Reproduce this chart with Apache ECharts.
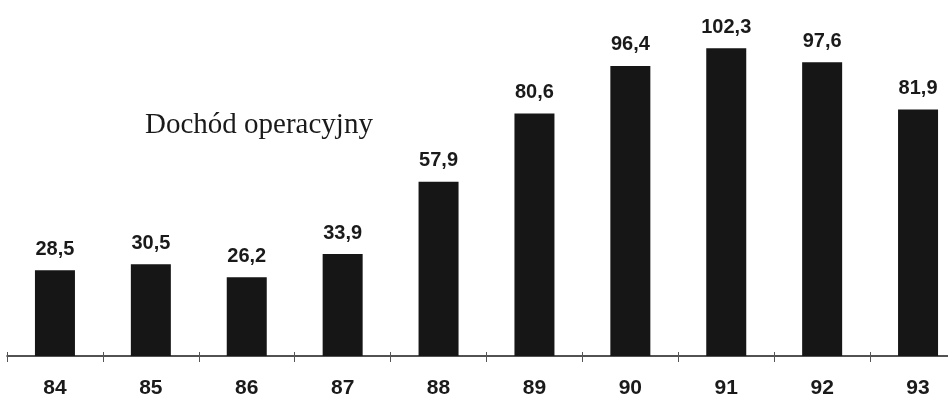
<!DOCTYPE html>
<html>
<head>
<meta charset="utf-8">
<script src="https://cdn.jsdelivr.net/npm/echarts@6/dist/echarts.min.js"></script>
<style>
  html, body { margin: 0; padding: 0; background: #ffffff; overflow: hidden; }
  /* the last category runs past the right edge of the page */
  #chart { width: 970px; height: 399px; }
</style>
</head>
<body>
<div id="chart"></div>
<script>
// Operating income by year
const years = ['84', '85', '86', '87', '88', '89', '90', '91', '92', '93'];
const income = [28.5, 30.5, 26.2, 33.9, 57.9, 80.6, 96.4, 102.3, 97.6, 81.9];
const titleText = 'Dochód operacyjny';

const chart = echarts.init(document.getElementById('chart'), null, { renderer: 'canvas' });

const gridBox = { left: 7, right: 4, top: 1, bottom: 43 };

chart.setOption({
  backgroundColor: '#ffffff',
  animation: false,
  title: {
    text: titleText,
    left: 140,
    top: 106,
    textStyle: {
      fontFamily: 'Liberation Serif',
      fontWeight: 'normal',
      fontSize: 29,
      color: '#1a1a1a'
    }
  },
  grid: gridBox,
  xAxis: [
    {
      type: 'category',
      data: years,
      axisLine: { lineStyle: { color: '#1a1a1a', width: 1.5 } },
      axisTick: { show: true, length: 6, lineStyle: { color: '#555', width: 1 } },
      axisLabel: {
        margin: 22,
        fontFamily: 'Liberation Sans',
        fontWeight: 'bold',
        fontSize: 21,
        color: '#1a1a1a'
      }
    },
    {
      // upper half of the crossing tick marks
      type: 'category',
      data: years,
      position: 'bottom',
      axisLine: { show: false },
      axisTick: { show: true, inside: true, length: 4, lineStyle: { color: '#555', width: 1 } },
      axisLabel: { show: false }
    }
  ],
  yAxis: {
    type: 'value',
    min: 0,
    max: 118,
    show: false
  },
  series: [{
    type: 'bar',
    data: income,
    barWidth: 40,
    itemStyle: { color: '#161616' },
    label: {
      show: true,
      position: 'top',
      distance: 11,
      fontFamily: 'Liberation Sans',
      fontWeight: 'bold',
      fontSize: 20,
      color: '#1a1a1a',
      formatter: p => String(p.value).replace('.', ',')
    }
  }]
});
</script>
</body>
</html>
